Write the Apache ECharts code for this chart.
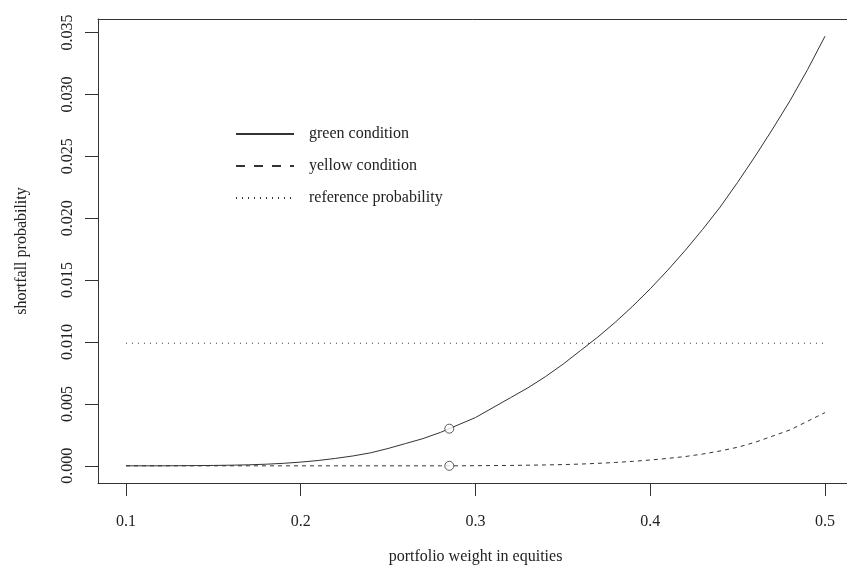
<!DOCTYPE html>
<html>
<head>
<meta charset="utf-8">
<script src="https://cdn.jsdelivr.net/npm/echarts@6/dist/echarts.min.js"></script>
<style>html,body{margin:0;padding:0;background:#fff;}#main{width:847px;height:570px;}</style>
</head>
<body>
<div id="main"></div>
<script>
const weights = [0.10,0.11,0.12,0.13,0.14,0.15,0.16,0.17,0.18,0.19,0.20,0.21,0.22,0.23,0.24,0.25,0.26,0.27,0.28,0.29,0.30,0.31,0.32,0.33,0.34,0.35,0.36,0.37,0.38,0.39,0.40,0.41,0.42,0.43,0.44,0.45,0.46,0.47,0.48,0.49,0.50];
const greenCondition = [0,0,0,0.00001,0.00002,0.00003,0.00005,0.00008,0.00013,0.0002,0.0003,0.00043,0.0006,0.0008,0.00105,0.0014,0.0018,0.0022,0.0027,0.0033,0.0039,0.0047,0.0055,0.0063,0.0072,0.0082,0.0093,0.0104,0.0116,0.0129,0.0143,0.0158,0.0174,0.0191,0.0209,0.0229,0.0250,0.0272,0.0295,0.0320,0.0347];
const yellowCondition = [0,0,0,0,0,0,0,0,0,0,0,0,0,0,0,0,0,0,0,0,0.00001,0.00002,0.00003,0.00005,0.00007,0.0001,0.00014,0.0002,0.00027,0.00036,0.00047,0.0006,0.00075,0.00095,0.0012,0.0015,0.0019,0.0024,0.0029,0.0036,0.0043];
const referenceProbability = 0.0099;
const markedWeight = 0.285;
const markedGreen = 0.003;
const markedYellow = 0.0;
const xTicks = [0.1,0.2,0.3,0.4,0.5];
const yTicks = [0,0.005,0.010,0.015,0.020,0.025,0.030,0.035];
const seriesNames = ['green condition','yellow condition','reference probability'];
const xTitle = 'portfolio weight in equities';
const yTitle = 'shortfall probability';

const FONT = 'Liberation Serif';
const INK = '#333';
const chart = echarts.init(document.getElementById('main'), null, {renderer:'canvas'});
const zip = (xs, ys) => xs.map((x,i)=>[x, ys[i]]);
chart.setOption({
  animation:false,
  backgroundColor:'#fff',
  textStyle:{fontFamily:FONT},
  grid:{left:98, top:19, width:755, height:464, show:false,
        outerBoundsMode:'none', containLabel:false},
  legend:{
    orient:'vertical', left:230, top:121, itemWidth:58, itemHeight:12, itemGap:16,
    itemStyle:{opacity:0},
    data:[
      {name:seriesNames[0], lineStyle:{type:'solid'}},
      {name:seriesNames[1], lineStyle:{type:[9,9]}},
      {name:seriesNames[2], lineStyle:{type:[1,5]}}
    ],
    textStyle:{fontFamily:FONT, fontSize:16, color:'#222', padding:[0,0,0,10]}
  },
  xAxis:[{
    type:'value', min:0.084, max:0.516, position:'bottom',
    name:xTitle, nameLocation:'middle', nameGap:66,
    nameTextStyle:{fontFamily:FONT, fontSize:16, color:'#222'},
    axisLine:{show:true, onZero:false, lineStyle:{color:INK}},
    axisTick:{show:true, length:13, lineStyle:{color:INK}, customValues:xTicks},
    axisLabel:{customValues:xTicks, margin:31, fontFamily:FONT, fontSize:16, color:'#222', formatter:v=>v.toFixed(1)},
    splitLine:{show:false}
  },{
    type:'value', min:0.084, max:0.516, position:'top',
    axisLine:{show:true, onZero:false, lineStyle:{color:INK}},
    axisTick:{show:false}, axisLabel:{show:false}, splitLine:{show:false}
  }],
  yAxis:{
    type:'value', min:-0.001388, max:0.036088,
    name:yTitle, nameLocation:'middle', nameGap:68, nameRotate:90,
    nameTextStyle:{fontFamily:FONT, fontSize:16, color:'#222'},
    axisLine:{show:true, onZero:false, lineStyle:{color:INK}},
    axisTick:{show:true, length:13, lineStyle:{color:INK}, customValues:yTicks},
    axisLabel:{customValues:yTicks, rotate:90, margin:22, fontFamily:FONT, fontSize:16, color:'#222', formatter:v=>v.toFixed(3)},
    splitLine:{show:false}
  },
  series:[
    {name:seriesNames[0], type:'line', symbol:'none', data:zip(weights, greenCondition),
     lineStyle:{color:INK, width:1, type:'solid'}, itemStyle:{color:INK}},
    {name:seriesNames[1], type:'line', symbol:'none', data:zip(weights, yellowCondition),
     lineStyle:{color:INK, width:1, type:[4,4]}, itemStyle:{color:INK}},
    {name:seriesNames[2], type:'line', symbol:'none',
     data:[[weights[0], referenceProbability],[weights[weights.length-1], referenceProbability]],
     lineStyle:{color:INK, width:1, type:[1,5]}, itemStyle:{color:INK}},
    {name:'marks', type:'scatter', symbol:'circle', symbolSize:9,
     data:[[markedWeight, markedGreen],[markedWeight, markedYellow]],
     itemStyle:{color:'#fff', borderColor:INK, borderWidth:1}, z:5}
  ]
});
</script>
</body>
</html>
